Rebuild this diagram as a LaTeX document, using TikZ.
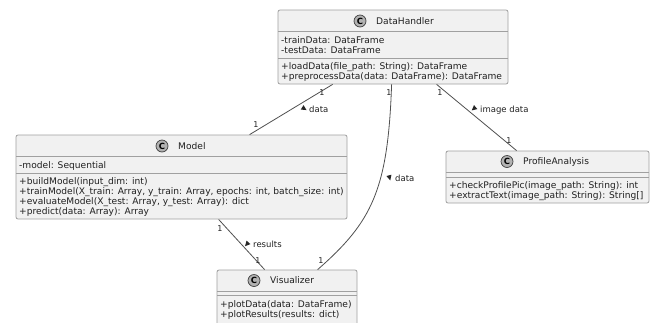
\documentclass[tikz,border=0pt]{standalone}
\usepackage{fontspec}
\setmainfont{DejaVu Sans}
\newfontfamily\dvbold{DejaVu Sans Bold}
\definecolor{boxfill}{HTML}{F1F1F1}
\definecolor{boxline}{HTML}{A0A0A0}
\definecolor{conn}{HTML}{505050}
\definecolor{txt}{HTML}{202020}
\begin{document}
\begin{tikzpicture}[x=1pt,y=-1pt,
  classbox/.style={draw=boxline, fill=boxfill, rounded corners=2pt, line width=0.8pt, inner sep=0pt},
  sepline/.style={draw=boxline, line width=0.8pt},
  mem/.style={anchor=base west, inner sep=0pt, text=txt, font=\fontsize{9.1}{10}\selectfont},
  cname/.style={anchor=base west, inner sep=0pt, text=txt, font=\fontsize{9.1}{10}\selectfont},
  cicon/.style={circle, draw=black!75, fill=black!30, line width=0.7pt, minimum size=12pt, inner sep=0pt, font=\dvbold\fontsize{8.5}{8.5}\selectfont},
  conn/.style={draw=conn, line width=0.8pt},
  mult/.style={inner sep=0pt, text=txt, font=\fontsize{8}{8}\selectfont},
  lbl/.style={anchor=base west, inner sep=0pt, text=txt, font=\fontsize{8.5}{9}\selectfont},
  tri/.style={fill=black!85}
]
\useasboundingbox (0,0) rectangle (655,322);
\fill[white] (0,0) rectangle (655,322);

% ---------- DataHandler ----------
\node[classbox, minimum width=230pt, minimum height=74pt] (dh) at (393,47) {};
\draw[sepline] (278,31) -- (508,31);
\draw[sepline] (278,58) -- (508,58);
\node[cicon] (dhc) at (360,21) {C};
\node[cname] (dhn) at (376,24.2) {DataHandler};
\node[mem] (dh1) at (281,43.3) {-trainData: DataFrame};
\node[mem] (dh2) at (281,53.3) {-testData: DataFrame};
\node[mem] (dh3) at (281,69.3) {+loadData(file\_path: String): DataFrame};
\node[mem] (dh4) at (281,79.3) {+preprocessData(data: DataFrame): DataFrame};

% ---------- Model ----------
\node[classbox, minimum width=331pt, minimum height=84pt] (md) at (181.5,177) {};
\draw[sepline] (16,156) -- (347,156);
\draw[sepline] (16,173) -- (347,173);
\node[cicon] (mdc) at (162,146) {C};
\node[cname] (mdn) at (178,149.2) {Model};
\node[mem] (md1) at (19,168.3) {-model: Sequential};
\node[mem] (md2) at (19,184.3) {+buildModel(input\_dim: int)};
\node[mem] (md3) at (19,194.3) {+trainModel(X\_train: Array, y\_train: Array, epochs: int, batch\_size: int)};
\node[mem] (md4) at (19,204.3) {+evaluateModel(X\_test: Array, y\_test: Array): dict};
\node[mem] (md5) at (19,214.3) {+predict(data: Array): Array};

% ---------- ProfileAnalysis ----------
\node[classbox, minimum width=203pt, minimum height=52pt] (pa) at (547.5,177) {};
\draw[sepline] (446,172) -- (649,172);
\draw[sepline] (446,177) -- (649,177);
\node[cicon] (pac) at (507,161.5) {C};
\node[cname] (pan) at (523,164.7) {ProfileAnalysis};
\node[mem] (pa1) at (449,188.3) {+checkProfilePic(image\_path: String): int};
\node[mem] (pa2) at (449,198.3) {+extractText(image\_path: String): String[]};

% ---------- Visualizer ----------
\node[classbox, minimum width=140pt, minimum height=56pt] (vz) at (287,298) {};
\draw[sepline] (217,291) -- (357,291);
\draw[sepline] (217,295) -- (357,295);
\node[cicon] (vzc) at (254,280.5) {C};
\node[cname] (vzn) at (270,283.7) {Visualizer};
\node[mem] (vz1) at (220,307.3) {+plotData(data: DataFrame)};
\node[mem] (vz2) at (220,317.3) {+plotResults(results: dict)};

% ---------- connectors ----------
\coordinate (dhA) at ([xshift=55pt]dh.south west);
\coordinate (dhB) at ([xshift=114pt]dh.south west);
\coordinate (dhC) at ([xshift=159pt]dh.south west);
\coordinate (mdT) at ([xshift=234pt]md.north west);
\coordinate (mdB) at ([xshift=203pt]md.south west);
\coordinate (paT) at ([xshift=71pt]pa.north west);
\coordinate (vzA) at ([xshift=48pt]vz.north west);
\coordinate (vzB) at ([xshift=101pt]vz.north west);

\draw[conn] (dhA) -- (mdT);
\draw[conn] (dhB) .. controls (388,190) and (372,222) .. (vzB);
\draw[conn] (dhC) -- (paT);
\draw[conn] (mdB) -- (vzA);

% multiplicities
\node[mult] at (322,93) {1};
\node[mult] at (256,125) {1};
\node[mult] at (389,93) {1};
\node[mult] at (321,261) {1};
\node[mult] at (440,93) {1};
\node[mult] at (509,141) {1};
\node[mult] at (220,229) {1};
\node[mult] at (258,261) {1};

% association labels with direction triangles
\fill[tri, shift={(304,108.5)}, rotate=-32] (3,0) -- (-2.2,2.6) -- (-2.2,-2.6) -- cycle;
\node[lbl] at (309,112) {data};
\fill[tri, shift={(389.5,177.5)}, rotate=-75] (3,0) -- (-2.2,2.6) -- (-2.2,-2.6) -- cycle;
\node[lbl] at (395,181) {data};
\fill[tri, shift={(474,108.5)}, rotate=-140] (3,0) -- (-2.2,2.6) -- (-2.2,-2.6) -- cycle;
\node[lbl] at (480,112) {image data};
\fill[tri, shift={(247,244)}, rotate=-132] (3,0) -- (-2.2,2.6) -- (-2.2,-2.6) -- cycle;
\node[lbl] at (253,247.5) {results};
\end{tikzpicture}
\end{document}
